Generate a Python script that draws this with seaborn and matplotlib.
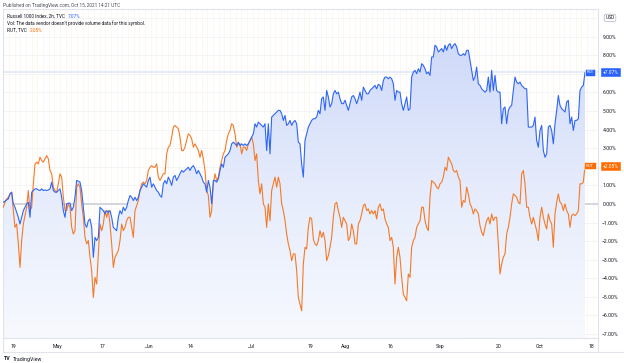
import numpy as np
import pandas as pd
import matplotlib
matplotlib.use("Agg")
import matplotlib.pyplot as plt
import matplotlib.transforms as mtransforms
from matplotlib.colors import LinearSegmentedColormap
from matplotlib.ticker import FuncFormatter, MultipleLocator
from matplotlib.lines import Line2D
import seaborn as sns

# % change since start (2h bars, Apr 16 - Oct 15 2021)
rui = [0.09, 0.14, 0.22, 0.27, 0.54, 0.63, 0.00, -0.18, -0.45, -0.72,
       -1.08, -0.72, -0.36, -0.18, 0.00, 0.09, -0.72, 0.63, 0.72, 0.81,
       0.81, 0.75, 0.72, 0.81, 0.72, 0.75, 0.72, 0.75, 0.81, 1.17,
       0.72, 0.63, 0.63, 0.72, 0.81, 0.36, -0.36, -0.72, 0.00, 0.04,
       0.04, -0.36, -0.18, 0.36, 1.26, 1.22, 1.17, 0.72, -0.18, -1.08,
       -1.26, -0.90, -0.81, -1.26, -2.87, -1.80, -1.97, -1.80,
       -0.18, -0.27, -0.36, -0.54, -0.36, -0.45, -0.36, -0.72, -1.26, -1.35,
       -1.44, -0.72, -0.36, -0.54, -0.18, -0.36, -0.18, 0.18, 0.45, 0.36,
       0.18, 0.36, 0.18, 0.36, 0.72, 0.90, 1.08, 0.99, 0.90, 1.26,
       1.44, 0.90, 1.08, 0.90, 0.72, 0.63, 0.45, 0.36, 1.08, 1.26,
       1.08, 1.44, 1.26, 0.99, 1.44, 1.53, 1.26, 1.44, 1.62, 1.80,
       1.71, 1.80, 1.89, 1.97, 1.80, 1.97, 2.06, 1.89, 1.62, 1.80,
       1.62, 1.44, 1.17, 1.08, 0.63, 1.26, 0.90, 0.00, 1.26, 1.26,
       1.17, 1.35, 1.80, 2.15, 1.97, 2.51, 2.60, 2.69, 2.87, 3.23,
       3.32, 3.23, 3.14, 3.32, 3.14, 3.23, 3.14, 3.23, 3.14, 3.23,
       3.41, 3.59, 3.77, 4.31, 4.13, 4.40, 4.31, 4.22, 4.13, 4.31,
       2.87, 4.31, 2.69, 4.67, 4.76, 4.85, 4.94, 5.03, 5.03, 4.85,
       4.49, 4.76, 4.22, 4.31, 4.49, 4.22, 4.40, 4.49, 4.31, 3.32,
       3.23, 2.15, 1.44, 3.41, 3.77, 4.13, 4.31, 4.49, 4.58, 4.58,
       4.67, 5.03, 4.85, 5.66, 5.75, 5.03, 6.10, 5.75, 5.21, 5.39,
       5.92, 6.10, 5.92, 6.01, 5.66, 5.39, 5.39, 5.57, 5.30, 5.03,
       5.39, 5.75, 5.83, 5.66, 5.39, 5.66, 6.01, 5.57, 6.28, 6.10,
       5.92, 5.92, 6.10, 6.19, 6.28, 6.37, 6.19, 6.43, 6.37, 6.10,
       6.64, 6.82, 6.82, 6.73, 6.82, 6.73, 6.46, 5.57, 6.10, 6.01,
       6.01, 5.39, 5.03, 5.39, 5.75, 5.03, 5.12, 6.82, 7.09, 7.18,
       7.00, 7.27, 7.09, 7.54, 7.45, 7.27, 7.00, 7.09, 6.91, 7.90,
       7.90, 8.53, 8.44, 8.17, 8.26, 8.35, 8.17, 8.53, 8.26, 8.53,
       8.62, 8.35, 8.53, 8.62, 8.44, 8.08, 7.99, 7.99, 8.08, 7.99,
       8.26, 8.26, 7.72, 7.18, 6.64, 6.82, 7.36, 6.46, 6.37, 6.19,
       6.10, 6.01, 6.10, 6.82, 6.01, 7.18, 6.10, 6.91, 6.10, 6.01,
       6.01, 4.31, 5.12, 5.21, 4.31, 5.03, 5.21, 5.30, 6.10, 6.82,
       6.55, 6.46, 6.55, 6.37, 6.28, 6.19, 6.19, 4.13, 4.13, 4.13,
       4.22, 4.67, 3.41, 3.05, 3.95, 4.22, 2.87, 2.51, 2.69, 4.13,
       4.22, 3.95, 3.23, 4.31, 5.03, 5.83, 5.30, 5.12, 5.03, 4.94,
       5.48, 5.57, 4.31, 4.67, 3.95, 4.49, 4.49, 4.58, 6.10, 6.28,
       6.37, 7.07]

rut = [-0.18, 0.09, 0.27, 0.36, 0.54, 0.63, -0.36, -1.26, -1.08, -2.15,
       -3.41, -1.97, -1.08, -0.63, -0.18, 0.72, -0.36, -0.18, 1.08, 2.15,
       2.24, 2.15, 2.51, 2.33, 2.24, 2.42, 2.60, 2.42, 1.80, 1.62,
       0.90, 0.72, 0.63, 1.08, 1.62, 1.44, 0.36, -0.36, -0.36, 0.00,
       -0.18, -1.26, -1.62, -1.44, 0.90, 1.08, 0.90, 0.00, -0.72, -1.80,
       -2.15, -1.97, -2.87, -3.59, -5.03, -3.95, -4.31, -2.69,
       -1.08, -1.44, -1.08, -0.36, -0.72, -0.36, -1.08, -2.15, -3.41, -2.87,
       -2.69, -2.51, -1.97, -1.08, -1.44, -1.26, -0.90, -0.72, -0.72, -1.26,
       -1.80, -0.36, -0.09, 0.18, 0.72, 1.08, 1.17, 1.08, 1.26, 1.80,
       1.97, 2.06, 1.97, 1.97, 2.15, 1.44, 1.26, 1.44, 1.62, 1.62,
       2.69, 3.05, 3.14, 3.59, 4.13, 4.22, 4.13, 4.04, 3.59, 2.87,
       2.87, 3.05, 3.41, 3.77, 3.68, 3.50, 3.05, 3.23, 3.05, 2.87,
       2.51, 2.87, 2.42, 1.80, 0.72, 0.45, -0.72, -0.36, 1.08, 1.62,
       1.26, 1.44, 1.97, 2.33, 2.69, 2.87, 3.41, 3.77, 3.95, 4.31,
       4.22, 3.77, 3.05, 3.23, 3.23, 2.69, 3.05, 3.05, 2.87, 3.23,
       3.41, 3.59, 3.23, 2.33, 2.69, 1.26, 0.54, 1.08, 0.00, -0.18,
       -1.26, 0.00, -0.90, 0.72, 1.08, 1.44, 0.90, 1.44, 1.08, 0.00,
       -0.36, -0.90, -1.62, -2.15, -2.51, -3.05, -2.69, -2.69, -3.59, -5.03,
       -5.39, -5.75, -3.23, -2.33, -2.42, -1.26, -0.72, -0.81, -1.89, -2.15,
       -2.24, -1.97, -1.44, -1.80, -1.53, -1.97, -3.05, -2.78, -2.33, -1.80,
       -0.72, 0.00, 0.09, -0.36, -0.72, -1.26, -0.72, -0.90, -1.08, -1.97,
       -1.80, -1.08, -1.44, -2.15, -2.15, -1.08, -0.90, -0.54, -0.09, 0.00,
       -0.36, -0.27, -0.54, -0.36, -0.54, -0.36, -0.81, -0.18, 0.00, -0.36,
       -0.27, -0.81, -1.08, -1.26, -1.97, -1.80, -2.33, -4.31, -2.87, -2.33,
       -2.87, -3.95, -4.85, -5.03, -5.21, -3.77, -3.95, -2.33, -1.97, -1.80,
       -1.26, -1.08, -0.90, -0.18, -0.18, -0.90, -1.26, -1.44, 0.36, 1.26,
       1.17, 1.08, 0.90, 0.81, 1.08, 1.17, 1.44, 1.97, 1.80, 2.51,
       2.33, 2.15, 1.80, 1.71, 1.80, 1.44, 1.26, -0.18, 0.18, 0.09,
       0.90, 0.54, 0.00, -0.18, -0.54, -0.27, -0.36, -0.54, -1.17, -1.53,
       -1.71, -1.26, -0.90, -0.72, -1.08, -0.54, -0.90, -0.72, -0.72, -2.15,
       -3.77, -3.23, -2.87, -2.69, -1.62, -1.26, -0.72, 0.00, 0.54, 0.45,
       0.36, 0.09, 0.00, 1.62, 1.80, 1.08, -0.18, -0.18, -0.72, -1.08,
       -0.72, -1.08, -1.44, -1.97, -0.72, -0.18, -0.72, -1.08, -1.35, -0.54,
       -0.90, -1.08, -2.33, -0.54, 0.09, 0.54, 0.09, 0.00, -0.36, 0.00,
       -0.36, -0.54, -1.26, -0.63, -0.54, -0.63, -0.54, -0.36, 1.08, 1.08,
       1.17, 2.05]

tick_bars = [5.8, 32.2, 59.2, 87.4, 112.0, 148.6, 184.0, 205.0, 232.0, 262.0, 297.4, 322.0, 352.6]
tick_labels = ["19", "May", "17", "Jun", "14", "Jul", "19", "Aug", "16", "Sep", "20", "Oct", "18"]
price_ticks = list(range(-7, 10))
rui_last = 7.07
rut_last = 2.05

BLUE = "#2f66f5"
BLUE_TAG = "#2962ff"
ORANGE = "#f57a28"
ORANGE_TAG = "#ff6d00"
TEXT = "#131722"
W, H = 624, 363

df = pd.DataFrame({"bar": np.arange(len(rui)), "RUI": rui, "RUT": rut})

sns.set_theme(style="white")
plt.rcParams["font.family"] = ["Roboto", "DejaVu Sans"]

fig = plt.figure(figsize=(W / 100, H / 100), dpi=100)
fig.patch.set_facecolor("white")
ax = fig.add_axes([3 / W, 1 - 338 / H, 595 / W, 329 / H])
ax.set_facecolor("white")

xlim = (-0.2, 356.8)
ylim = (-7.21, 10.48)

# grid
ax.xaxis.set_minor_locator(MultipleLocator(3.4))
ax.grid(which="minor", axis="x", color="#fcf5ea", linewidth=0.5)
for v in price_ticks + [10]:
    ax.axhline(v, color="#f0f2f6", linewidth=0.6, zorder=0)
ax.axhline(0, color="#c9ccd4", linewidth=1.1, zorder=1)
ax.axhline(rui_last, color="#dfe5f8", linewidth=1.1, zorder=1)

# gradient area under RUI
poly = ax.fill_between(df["bar"], df["RUI"], ylim[0], facecolor="none", edgecolor="none")
cmap = LinearSegmentedColormap.from_list("rui_fill", ["#f7f9fe", "#e6ecfc", "#cfdaf9"])
grad = np.linspace(0, 1, 256).reshape(-1, 1)
im = ax.imshow(grad, extent=[df["bar"].min(), df["bar"].max(), ylim[0], max(rui)],
               origin="lower", aspect="auto", cmap=cmap, zorder=1)
im.set_clip_path(poly.get_paths()[0], ax.transData)

sns.lineplot(data=df, x="bar", y="RUT", ax=ax, color=ORANGE, linewidth=0.8, zorder=3)
sns.lineplot(data=df, x="bar", y="RUI", ax=ax, color=BLUE, linewidth=0.8, zorder=4)

ax.set_xlim(*xlim)
ax.set_ylim(*ylim)
ax.set_xlabel("")
ax.set_ylabel("")


def pct_label(v, pos):
    # labels under the last-value tags are hidden
    if abs(v - rui_last) < 0.5 or abs(v - rut_last) < 0.5:
        return ""
    return f"{v:.2f}%".replace("-", "\u2212")


# axes
ax.set_xticks(tick_bars)
ax.set_xticklabels(tick_labels)
ax.tick_params(axis="x", which="both", length=0, pad=4.5, labelsize=3.7, labelcolor=TEXT)
ax.yaxis.tick_right()
ax.set_yticks(price_ticks)
ax.yaxis.set_major_formatter(FuncFormatter(pct_label))
ax.tick_params(axis="y", length=0, pad=8.3, labelsize=3.7, labelcolor=TEXT)
for lab in ax.get_yticklabels():
    lab.set_horizontalalignment("center")
for s in ax.spines.values():
    s.set_color("#e0e3eb")
    s.set_linewidth(0.8)

trans = mtransforms.blended_transform_factory(ax.transAxes, ax.transData)
px_ax = lambda px: (px - 3) / 595

ax.text(px_ax(610), 10, "USD", transform=trans, ha="center", va="center", fontsize=3.5,
        color=TEXT, clip_on=False,
        bbox=dict(boxstyle="round,pad=0.25,rounding_size=0.4", fc="white", ec="#b2b5be", lw=0.5))

# last value tags
for name, last, tag in [("RUI", rui_last, BLUE_TAG), ("RUT", rut_last, ORANGE_TAG)]:
    ax.text(px_ax(590), last, name, transform=trans, ha="center", va="center", fontsize=3.2,
            color="white", zorder=6, clip_on=False,
            bbox=dict(boxstyle="square,pad=0.35", fc=tag, ec="white", lw=0.4))
    ax.text(px_ax(610.5), last, f"+{last:.2f}%", transform=trans, ha="center", va="center",
            fontsize=3.5, color="white", zorder=6, clip_on=False,
            bbox=dict(boxstyle="square,pad=0.3", fc=tag, ec=tag, lw=0.4))

# frame around the time axis
for (x0, y0, x1, y1) in [(3, 352, 624, 352), (3, 338, 3, 352), (598, 338, 598, 352)]:
    fig.add_artist(Line2D([x0 / W, x1 / W], [1 - y0 / H, 1 - y1 / H], color="#e0e3eb", lw=0.8))

# header texts
fig.text(3 / W, 1 - 5 / H, "Published on TradingView.com, Oct 15, 2021 14:21 UTC",
         fontsize=3.4, color="#4a4e5a", va="center")
fig.canvas.draw()
r = fig.canvas.get_renderer()


def follow(t, s, color, gap=3):
    bb = t.get_window_extent(r)
    return fig.text((bb.x1 + gap) / W, t.get_position()[1], s, fontsize=t.get_fontsize(),
                    color=color, va="center")


t1 = fig.text(7 / W, 1 - 16 / H, "Russell 1000 Index, 2h, TVC", fontsize=3.4, color=TEXT, va="center")
follow(t1, "7.07%", BLUE_TAG)
fig.text(7 / W, 1 - 23 / H, "Vol: The data vendor doesn't provide volume data for this symbol.",
         fontsize=3.4, color=TEXT, va="center")
t3 = fig.text(7 / W, 1 - 30 / H, "RUT, TVC", fontsize=3.4, color=TEXT, va="center")
follow(t3, "2.05%", ORANGE_TAG)

# footer logo
t_logo = fig.text(4 / W, 1 - 359 / H, "TV", fontsize=3.8, fontweight="bold", color=TEXT, va="center")
follow(t_logo, "TradingView", TEXT, gap=2)

fig.savefig("out.png", dpi=100, facecolor="white")
